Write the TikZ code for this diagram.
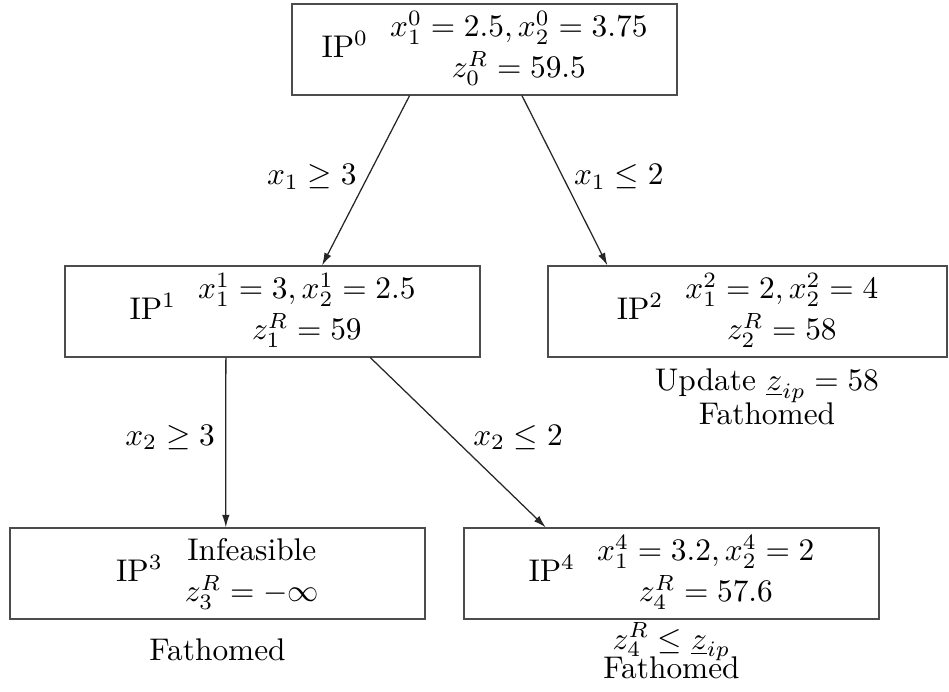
\documentclass[tikz,border=0pt]{standalone}
\usepackage{amsmath}
\usepackage{tikz}
\usetikzlibrary{arrows.meta, calc, positioning}
\tikzset{
    probbox/.style={draw=black!70, minimum height=26.5pt, inner sep=2pt},
    branch/.style={-{Latex[length=4pt,width=2.4pt]}, draw=black!85},
    remark/.style={align=center}
}
\newcommand{\subprob}[3]{IP$^{#1}$\hspace{7pt}\begin{tabular}{@{}c@{}}#2\\[1pt]#3\end{tabular}}

\begin{document}
\begin{tikzpicture}[x=0.319pt, y=-0.319pt]
    \useasboundingbox (0,0) rectangle (949,691);
    % subproblems
    \node[probbox, minimum width=122.8pt, minimum height=27.1pt] (ip0) at (484.5,49.5)
        {\subprob{0}{$x_1^0=2.5, x_2^0=3.75$}{$z_0^R=59.5$}};
    \node[probbox, minimum width=132.4pt] (ip1) at (272.5,311.5)
        {\subprob{1}{$x_1^1=3, x_2^1=2.5$}{$z_1^R=59$}};
    \node[probbox, minimum width=127.3pt] (ip2) at (747.5,311.5)
        {\subprob{2}{$x_1^2=2, x_2^2=4$}{$z_2^R=58$}};
    \node[probbox, minimum width=132.4pt] (ip3) at (217.5,573.5)
        {\subprob{3}{Infeasible}{$z_3^R=-\infty$}};
    \node[probbox, minimum width=132.4pt] (ip4) at (671.5,573.5)
        {\subprob{4}{$x_1^4=3.2, x_2^4=2$}{$z_4^R=57.6$}};
    % branches
    \draw[branch] ($(ip0.south west)!.306!(ip0.south east)$) -- node[left, pos=.48] (b1) {$x_1\geq 3$}
        ($(ip1.north west)!.619!(ip1.north east)$);
    \draw[branch] ($(ip0.south west)!.597!(ip0.south east)$) -- node[right, pos=.48] (b2) {$x_1\leq 2$}
        ($(ip2.north west)!.150!(ip2.north east)$);
    \draw[branch] ($(ip1.south west)!.388!(ip1.south east)$) -- node[left, pos=.47] (b3) {$x_2\geq 3$}
        ($(ip3.north west)!.520!(ip3.north east)$);
    \draw[branch] ($(ip1.south west)!.735!(ip1.south east)$) -- node[right, pos=.47, xshift=3pt] (b4) {$x_2\leq 2$}
        ($(ip4.north west)!.198!(ip4.north east)$);
    % notes
    \node[remark, below=0pt of ip2, xshift=6.2pt] (note2) {Update $\underline{z}_{ip}=58$\\[-1pt]Fathomed};
    \node[remark, below=2.5pt of ip3] (note3) {Fathomed};
    \node[remark, below=-1.2pt of ip4, inner sep=2pt] (note4) {$z_4^R\leq\underline{z}_{ip}$\\[-2.5pt]Fathomed};
\end{tikzpicture}
\end{document}
